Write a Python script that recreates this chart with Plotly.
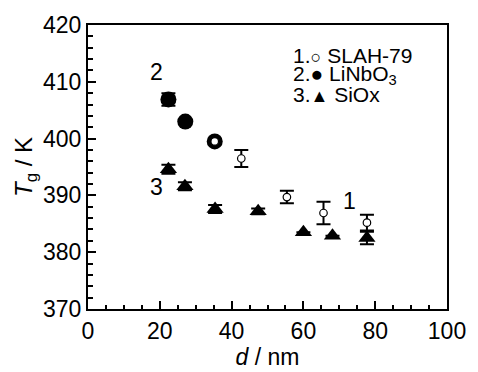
import plotly.graph_objects as go

# SLAH-79 (open circles)
slah_x = [35.3, 42.7, 55.4, 65.6, 77.7]
slah_y = [399.5, 396.5, 389.7, 386.9, 385.2]
slah_err = [0.0, 1.5, 1.1, 2.0, 1.4]

# LiNbO3 (filled circles)
lin_x = [22.4, 27.1, 35.3]
lin_y = [406.9, 403.0, 399.5]
lin_err = [1.1, 0.0, 0.0]

# SiOx (filled triangles)
siox_x = [22.4, 27.0, 35.4, 47.4, 60.0, 68.1, 77.7]
siox_y = [394.6, 391.6, 387.6, 387.2, 383.5, 382.9, 382.5]
siox_err = [0.8, 0.7, 0.7, 0.5, 0.0, 0.0, 1.1]

FONT = "Liberation Sans, Arial, sans-serif"
TICK = 23

fig = go.Figure()
fig.add_trace(go.Scatter(
    x=lin_x, y=lin_y, mode="markers",
    marker=dict(symbol="circle", size=16, color="black", line=dict(width=0)),
    error_y=dict(type="data", array=lin_err, visible=True, color="black", thickness=2, width=7),
))
fig.add_trace(go.Scatter(
    x=siox_x, y=siox_y, mode="markers",
    marker=dict(symbol="triangle-up", size=15, color="black", line=dict(width=0)),
    error_y=dict(type="data", array=siox_err, visible=True, color="black", thickness=2, width=7),
))
fig.add_trace(go.Scatter(
    x=slah_x, y=slah_y, mode="markers",
    marker=dict(symbol="circle", size=7.5, color="white", line=dict(width=1.2, color="black")),
    error_y=dict(type="data", array=slah_err, visible=True, color="black", thickness=2, width=7),
))

ann = [
    dict(x=19.0, y=411.8, text="2"),
    dict(x=19.0, y=391.5, text="3"),
    dict(x=72.8, y=389.0, text="1"),
]
annotations = []
for a in ann:
    annotations.append(dict(x=a["x"], y=a["y"], text=a["text"], xref="x", yref="y",
                            showarrow=False, font=dict(family=FONT, size=TICK, color="black")))

legend_rows = [
    ("1.", '<span style="font-size:18px">○</span>', "SLAH-79", 47.5),
    ("2.", '<span style="font-size:21px">●</span>', "LiNbO<sub>3</sub>", 68.0),
    ("3.", '<span style="font-size:18px">▲</span>', "SiOx", 88.5),
]
for num, sym, name, py in legend_rows:
    annotations.append(dict(
        x=(297 - 88) / 369, y=1 - (py - 15.5) / 298.5, xref="paper", yref="paper",
        xanchor="left", yanchor="middle", showarrow=False,
        text=f"{num}{sym} {name}", font=dict(family=FONT, size=21, color="black")))

fig.update_layout(
    width=478, height=372,
    margin=dict(l=88, r=21, t=15.5, b=58),
    paper_bgcolor="white", plot_bgcolor="white",
    showlegend=False,
    font=dict(family=FONT, size=TICK, color="black"),
    annotations=annotations,
    xaxis=dict(
        range=[0, 100], tickvals=[0, 20, 40, 60, 80, 100],
        ticks="inside", ticklen=8, tickwidth=2, tickcolor="black",
        tickfont=dict(family=FONT, size=TICK),
        minor=dict(dtick=5, ticks="inside", ticklen=4.5, tickwidth=2, tickcolor="black"),
        showline=True, linewidth=2, linecolor="black", mirror=True,
        showgrid=False, zeroline=False,
        title=dict(text="<i>d</i> / nm", font=dict(family=FONT, size=TICK), standoff=0),
    ),
    yaxis=dict(
        range=[370, 420], tickvals=[370, 380, 390, 400, 410, 420],
        ticks="inside", ticklen=8, tickwidth=2, tickcolor="black",
        tickfont=dict(family=FONT, size=TICK),
        minor=dict(dtick=2, ticks="inside", ticklen=4.5, tickwidth=2, tickcolor="black"),
        showline=True, linewidth=2, linecolor="black", mirror=True,
        showgrid=False, zeroline=False,
        title=dict(text="<i>T</i><sub>g</sub> / K", font=dict(family=FONT, size=24), standoff=4),
    ),
)

fig.write_html("out.html")
